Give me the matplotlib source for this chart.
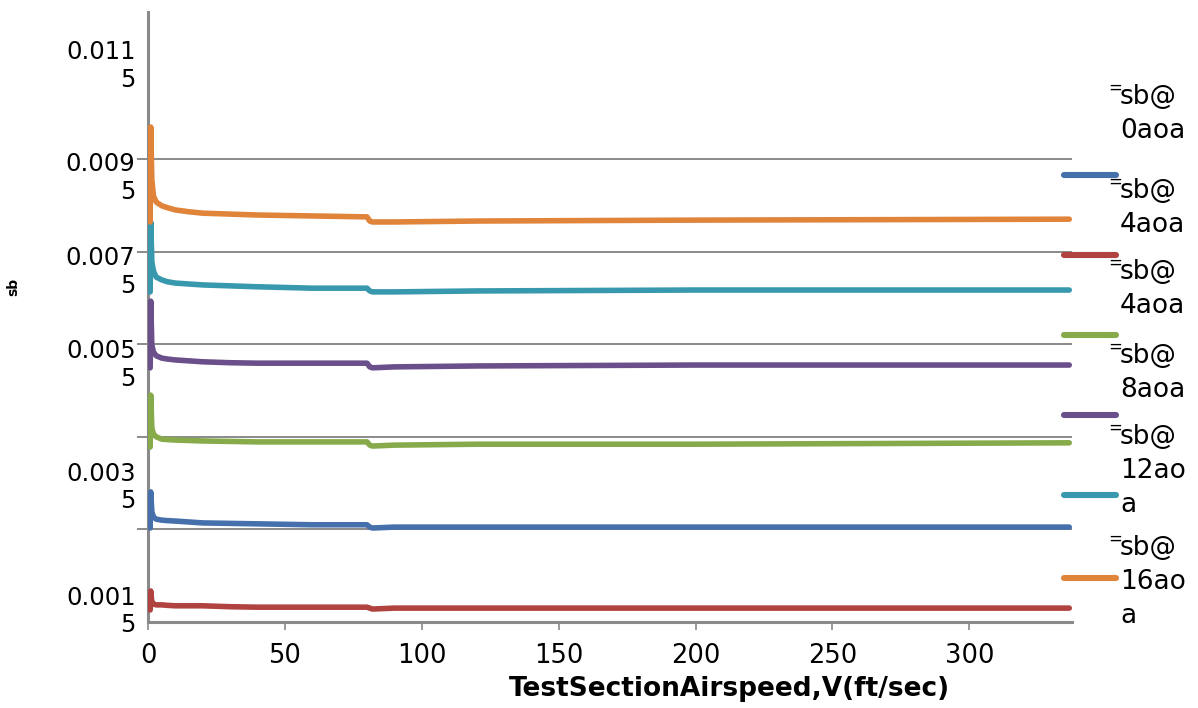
import matplotlib
matplotlib.use("Agg")
import matplotlib.pyplot as plt
from matplotlib.lines import Line2D

# ---------------- data ----------------
airspeed = [0.8, 1.0, 1.4, 2, 3, 5, 7, 10, 15, 20, 30, 40, 60, 80, 81, 82, 90, 120, 200, 336.5]

sb_red    = [0.00176, 0.00217, 0.00193, 0.00189, 0.00187, 0.00187, 0.00186, 0.00185, 0.00185,
             0.00185, 0.00183, 0.00182, 0.00182, 0.00182, 0.00180, 0.00178, 0.00180, 0.00180,
             0.00180, 0.00180]
sb_blue   = [0.00353, 0.00431, 0.00388, 0.00377, 0.00372, 0.00370, 0.00369, 0.00368, 0.00366,
             0.00364, 0.00363, 0.00362, 0.00360, 0.00360, 0.00355, 0.00353, 0.00355, 0.00355,
             0.00355, 0.00355]
sb_green  = [0.00528, 0.00640, 0.00569, 0.00556, 0.00550, 0.00545, 0.00544, 0.00543, 0.00542,
             0.00541, 0.00540, 0.00539, 0.00539, 0.00539, 0.00532, 0.00530, 0.00532, 0.00534,
             0.00534, 0.00537]
sb_purple = [0.00699, 0.00843, 0.00748, 0.00733, 0.00725, 0.00720, 0.00718, 0.00716, 0.00714,
             0.00712, 0.00710, 0.00709, 0.00709, 0.00709, 0.00701, 0.00699, 0.00701, 0.00703,
             0.00705, 0.00705]
sb_teal   = [0.00863, 0.01014, 0.00928, 0.00908, 0.00895, 0.00889, 0.00885, 0.00882, 0.00880,
             0.00878, 0.00876, 0.00874, 0.00871, 0.00871, 0.00865, 0.00863, 0.00863, 0.00865,
             0.00867, 0.00867]
sb_orange = [0.01014, 0.01219, 0.01105, 0.01070, 0.01057, 0.01049, 0.01045, 0.01040, 0.01036,
             0.01033, 0.01031, 0.01029, 0.01027, 0.01025, 0.01016, 0.01014, 0.01014, 0.01016,
             0.01018, 0.01020]

series = [sb_red, sb_blue, sb_green, sb_purple, sb_teal, sb_orange]
series_colors = ["#B0433F", "#4570AB", "#87AB4A", "#6A4F8B", "#3898AE", "#E0843A"]

# legend entries as shown (handle colour order / label text)
legend_colors = ["#4570AB", "#B0433F", "#87AB4A", "#6A4F8B", "#3898AE", "#E0843A"]
legend_labels = ["sb@\n0aoa", "sb@\n4aoa", "sb@\n4aoa", "sb@\n8aoa", "sb@\n12ao\na", "sb@\n16ao\na"]

x_ticks = [0, 50, 100, 150, 200, 250, 300]
grid_values = [0.0035, 0.0055, 0.0075, 0.0095, 0.0115]
y_label_pos = [0.00182, 0.00450, 0.00714, 0.00915, 0.01118, 0.01360]
y_label_txt = ["0.001\n5", "0.003\n5", "0.005\n5", "0.007\n5", "0.009\n5", "0.011\n5"]

# ---------------- figure ----------------
W, H = 1198, 708
fig = plt.figure(figsize=(W / 100, H / 100), dpi=100)
ax = fig.add_axes([148 / W, 1 - 622 / H, (1072 - 148) / W, (622 - 12) / H])

for vals, c in zip(series, series_colors):
    ax.plot(airspeed, vals, color=c, lw=4.0, solid_capstyle="round",
            solid_joinstyle="round", zorder=3)

ax.set_xlim(0, 337.5)
ax.set_ylim(0.0015, 0.014675)

gray = "#8a8a8a"
for s in ["top", "right"]:
    ax.spines[s].set_visible(False)
for s in ["left", "bottom"]:
    ax.spines[s].set_color(gray)
    ax.spines[s].set_linewidth(2.2)

ax.set_xticks(x_ticks)
ax.set_xticklabels([str(v) for v in x_ticks], fontsize=18.5)
ax.tick_params(axis="x", length=6, width=1.2, color=gray, pad=9)

ax.set_yticks(y_label_pos)
ax.set_yticklabels(y_label_txt, fontsize=17.5, linespacing=1.2)
ax.tick_params(axis="y", which="major", length=0, pad=9)
ax.set_yticks(grid_values, minor=True)
ax.tick_params(axis="y", which="minor", length=8, width=1.4, color=gray)
ax.grid(axis="y", which="minor", color=gray, lw=1.4, zorder=1)
ax.grid(axis="y", which="major", visible=False)

ax.set_xlabel("TestSectionAirspeed,V(ft/sec)", fontsize=19, fontweight="bold")
ax.xaxis.set_label_coords((729 - 148) / (1072 - 148), -0.088)
ax.set_ylabel("sb", fontsize=10, fontweight="bold")
ax.yaxis.set_label_coords(-0.138, 0.55)

# ---------------- legend (drawn as in the reference) ----------------
handle_y = [175, 255, 335, 415, 495, 578]
text_y = [84, 178, 259, 343, 424, 535]
for c, hy in zip(legend_colors, handle_y):
    fig.add_artist(Line2D([1064 / W, 1116 / W], [1 - hy / H, 1 - hy / H],
                          transform=fig.transFigure, color=c, lw=4.4,
                          solid_capstyle="round"))
for lab, ty in zip(legend_labels, text_y):
    fig.text(1108 / W, 1 - (ty + 4) / H, "=", fontsize=12, va="center", ha="left")
    fig.text(1120 / W, 1 - ty / H, lab, fontsize=19, va="top", ha="left",
             linespacing=1.4)

fig.savefig("out.png", dpi=100)
